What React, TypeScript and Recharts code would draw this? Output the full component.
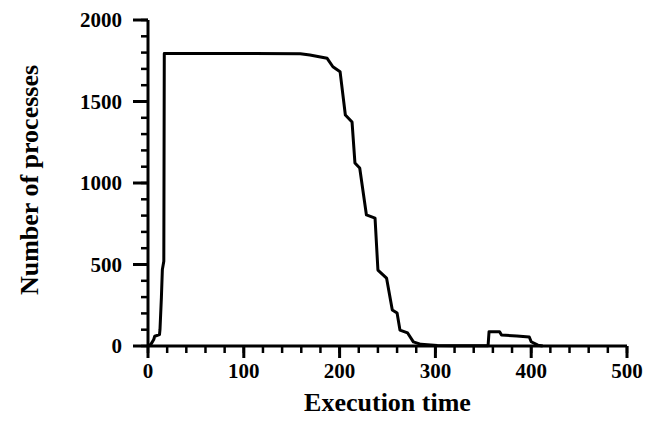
import React from 'react';
import { LineChart, Line, XAxis, YAxis, Label } from 'recharts';

const times = [0, 3, 6, 7, 12, 12.5, 14, 15, 16.5, 17, 100, 159, 169, 187, 193, 200.5, 206, 213, 216, 221, 228, 237, 240, 249, 255, 260, 263, 271, 277, 285, 302, 320, 355, 356, 367, 369, 385, 398, 400, 407, 412];
const processes = [0, 10, 40, 60, 70, 100, 300, 470, 520, 1795, 1795, 1793, 1785, 1765, 1713, 1683, 1417, 1374, 1123, 1092, 804, 785, 466, 417, 221, 202, 98, 80, 25, 10, 3, 1, 2, 88, 88, 67, 62, 55, 26, 5, 0];

const xTicks = Array.from({ length: 26 }, (_, i) => i * 20);
const yTicks = Array.from({ length: 21 }, (_, i) => i * 100);

const data = times.map((t, i) => ({ t, n: processes[i] }));

const FONT = '"Liberation Serif", "Times New Roman", serif';
const INK = '#000';
const X_MINOR = 7;
const Y_MINOR = 7;

const renderXTick = (props: any) => {
  const x = Number(props.x);
  const y = Number(props.y) - X_MINOR;
  const v = Number(props.payload.value);
  const major = v % 100 === 0;
  return (
    <g key={`xt-${v}`}>
      {major ? <line x1={x} x2={x} y1={y} y2={y + 12} stroke={INK} strokeWidth={3} /> : null}
      {major ? (
        <text x={x} y={y + 32} textAnchor="middle" fontFamily={FONT} fontWeight="bold" fontSize={21} fill={INK} stroke="none">
          {v}
        </text>
      ) : null}
    </g>
  );
};

const renderYTick = (props: any) => {
  const x = Number(props.x) + Y_MINOR;
  const y = Number(props.y);
  const v = Number(props.payload.value);
  const major = v % 500 === 0;
  return (
    <g key={`yt-${v}`}>
      {major ? <line x1={x} x2={x - 15} y1={y} y2={y} stroke={INK} strokeWidth={3} /> : null}
      {major ? (
        <text x={x - 26} y={y + 7} textAnchor="end" fontFamily={FONT} fontWeight="bold" fontSize={21} fill={INK} stroke="none">
          {v}
        </text>
      ) : null}
    </g>
  );
};

const XTitle = (props: any) => {
  const vb = props.viewBox || {};
  const cx = vb.x + vb.width / 2;
  return (
    <text x={cx} y={vb.y + 65} textAnchor="middle" fontFamily={FONT} fontWeight="bold" fontSize={26} fill={INK}>
      Execution time
    </text>
  );
};

const YTitle = (props: any) => {
  const vb = props.viewBox || {};
  const cy = vb.y + vb.height / 2 - 3;
  const bx = vb.x + 38;
  return (
    <text x={bx} y={cy} transform={`rotate(-90, ${bx}, ${cy})`} textAnchor="middle" fontFamily={FONT} fontWeight="bold" fontSize={26} fill={INK}>
      Number of processes
    </text>
  );
};

export default function App() {
  return (
    <div style={{ position: 'absolute', left: 0, top: 0, background: '#fff' }}>
      <LineChart width={659} height={421} data={data} margin={{ top: 20, right: 32, bottom: 0, left: 0 }}>
        <XAxis
          type="number"
          dataKey="t"
          domain={[0, 500]}
          ticks={xTicks}
          interval={0}
          height={75}
          tickSize={X_MINOR}
          tickMargin={0}
          tickLine={{ stroke: '#000', strokeWidth: 2.5 }}
          tick={renderXTick}
          axisLine={{ stroke: '#000', strokeWidth: 3 }}
        >
          <Label content={<XTitle />} />
        </XAxis>
        <YAxis
          type="number"
          domain={[0, 2000]}
          ticks={yTicks}
          interval={0}
          width={148}
          tickSize={Y_MINOR}
          tickMargin={0}
          tickLine={{ stroke: '#000', strokeWidth: 2.5 }}
          tick={renderYTick}
          axisLine={{ stroke: '#000', strokeWidth: 3 }}
        >
          <Label content={<YTitle />} />
        </YAxis>
        <Line
          type="linear"
          dataKey="n"
          stroke="#000"
          strokeWidth={3}
          dot={false}
          isAnimationActive={false}
          strokeLinejoin="round"
        />
      </LineChart>
    </div>
  );
}
